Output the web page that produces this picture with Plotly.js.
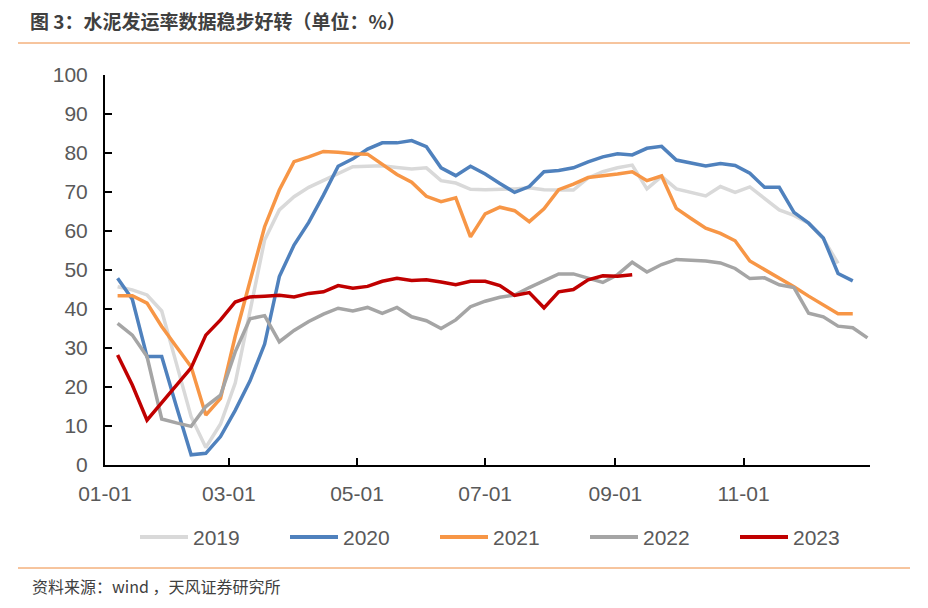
<!DOCTYPE html>
<html>
<head>
<meta charset="utf-8">
<script src="https://cdn.plot.ly/plotly-3.0.1.min.js"></script>
<style>html,body{margin:0;padding:0;background:#fff;}#chart{width:928px;height:608px;}</style>
</head>
<body>
<div id="chart"></div>
<script>
// Weekly observation dates (month-day), shared across years
const weekDates = ["01-07","01-14","01-21","01-28","02-04","02-11","02-18","02-25","03-04","03-11","03-18","03-25","04-01","04-08","04-15","04-22","04-29","05-06","05-13","05-20","05-27","06-03","06-10","06-17","06-24","07-01","07-08","07-15","07-22","07-29","08-05","08-12","08-19","08-26","09-02","09-09","09-16","09-23","09-30","10-07","10-14","10-21","10-28","11-04","11-11","11-18","11-25","12-02","12-09","12-16","12-23","12-30"];

const seriesNames = ["2019","2020","2021","2022","2023"];

const v2019 = [45.7,44.9,43.6,39.5,26,12.4,4.5,10.5,21,39,57.7,65.4,68.8,71.2,72.9,74.8,76.5,76.6,76.7,76.3,75.9,76.2,72.9,72.3,70.7,70.6,70.6,70.8,71.1,70.6,70.5,70.5,73.6,75.2,76.2,76.9,70.8,74,70.8,70,69,71.4,69.9,71.3,68.4,65.4,64,62,58,51.7];
const v2020 = [47.9,42.5,27.8,27.8,15,2.6,3,7.3,14,21.5,31,48.3,56.4,62.2,69.2,76.6,78.5,81,82.6,82.6,83.2,81.6,76.2,74.2,76.6,74.6,72.2,69.9,71.4,75.2,75.5,76.2,77.7,79,79.8,79.5,81.2,81.7,78.2,77.5,76.7,77.3,76.8,74.8,71.2,71.2,64.8,62,58.2,49.1,47.2];
const v2021 = [43.4,43.4,41.5,35.5,30.3,25.2,12.8,17.1,33,47,61.1,70.5,77.8,79,80.4,80.2,79.8,79.7,77,74.5,72.5,68.9,67.5,68.5,58.5,64.4,66.1,65.2,62.4,65.7,70.6,72,73.7,74.1,74.6,75.2,72.9,74.1,65.8,63.2,60.7,59.4,57.5,52.3,50.1,48.1,45.7,43.3,41,38.8,38.8];
const v2022 = [36.3,33.3,27.8,11.8,10.8,9.9,15,17.9,29,37.5,38.3,31.6,34.5,36.8,38.7,40.2,39.5,40.4,38.9,40.4,38,37,35,37.2,40.6,42,43,43.6,45.5,47.2,49,49,47.8,46.8,48.8,52,49.5,51.4,52.7,52.6,52.3,51.8,50.4,47.8,48,46.2,45.5,38.9,38,35.6,35.2,32.6];
const v2023 = [28.2,20.5,11.5,16,20.7,24.9,33.3,37.2,41.8,43.1,43.3,43.5,43.1,44,44.4,46,45.3,45.8,47.1,47.9,47.3,47.5,46.9,46.2,47.1,47.1,46,43.5,44.2,40.3,44.4,45,47.5,48.5,48.4,48.8];

const tickDates = ["01-01","03-01","05-01","07-01","09-01","11-01"];
const yTicks = [0,10,20,30,40,50,60,70,80,90,100];

const colors = ["#d9d9d9","#4f81bd","#f79646","#a5a5a5","#c00000"];
const allValues = [v2019,v2020,v2021,v2022,v2023];
const baseYear = "2023-";

const traces = allValues.map((vals, k) => ({
  type: "scatter",
  mode: "lines",
  name: seriesNames[k],
  x: weekDates.slice(0, vals.length).map(d => baseYear + d),
  y: vals,
  line: {color: colors[k], width: 3.5},
  hoverinfo: "skip",
  showlegend: false
}));

const W = 765, H = 390, L = 105, T = 75;
const px = x => (x - L) / W;
const py = y => (T + H - y) / H;

const shapes = [
  {type: "line", xref: "paper", yref: "paper", x0: px(18), x1: px(910), y0: py(43), y1: py(43), line: {color: "#ee8a3c", width: 1}},
  {type: "line", xref: "paper", yref: "paper", x0: px(18), x1: px(910), y0: py(568), y1: py(568), line: {color: "#ee8a3c", width: 1}}
];
const annotations = [
  {text: "资料来源：wind ，天风证券研究所", xref: "paper", yref: "paper", x: px(30), y: py(586), xanchor: "left", yanchor: "middle", showarrow: false, font: {family: "Noto Sans CJK SC, sans-serif", size: 16, color: "#404040"}}
];
// custom legend (line sample + label) below the plot
seriesNames.forEach((nm, k) => {
  const x0 = 140 + 150 * k;
  shapes.push({type: "line", xref: "paper", yref: "paper", x0: px(x0), x1: px(x0 + 48), y0: py(537), y1: py(537), line: {color: colors[k], width: 4}});
  annotations.push({text: nm, xref: "paper", yref: "paper", x: px(x0 + 51), y: py(537), xanchor: "left", yanchor: "middle", showarrow: false, font: {family: "Liberation Sans, Arial, sans-serif", size: 21, color: "#595959"}});
});

const layout = {
  width: 928, height: 608,
  margin: {l: 105, r: 58, t: 75, b: 143},
  paper_bgcolor: "#ffffff",
  plot_bgcolor: "#ffffff",
  showlegend: false,
  font: {family: "Liberation Sans, Arial, sans-serif", color: "#595959"},
  title: {
    text: "<b>图 3：水泥发运率数据稳步好转（单位：%）</b>",
    x: 30/928, xanchor: "left", xref: "container",
    y: 1 - 22/608, yanchor: "middle", yref: "container",
    font: {family: "Noto Sans CJK SC, sans-serif", size: 19, color: "#404040"}
  },
  xaxis: {
    type: "date",
    range: ["2023-01-01", "2023-12-31 05:00"],
    tickmode: "array",
    tickvals: tickDates.map(d => baseYear + d),
    ticktext: tickDates,
    ticks: "inside", ticklen: 7, tickwidth: 2, tickcolor: "#000",
    showline: true, linecolor: "#000", linewidth: 2,
    showgrid: false, zeroline: false,
    tickfont: {size: 21, color: "#595959"},
    ticklabelstandoff: 9,
    automargin: false,
    fixedrange: true
  },
  yaxis: {
    range: [0, 100],
    tickmode: "array",
    tickvals: yTicks,
    ticks: "inside", ticklen: 7, tickwidth: 2, tickcolor: "#000",
    showline: true, linecolor: "#000", linewidth: 2,
    showgrid: false, zeroline: false,
    tickfont: {size: 21, color: "#595959"},
    ticklabelstandoff: 11,
    automargin: false,
    fixedrange: true
  },
  shapes: shapes,
  annotations: annotations
};

Plotly.newPlot("chart", traces, layout, {displayModeBar: false, staticPlot: true});
</script>
</body>
</html>
